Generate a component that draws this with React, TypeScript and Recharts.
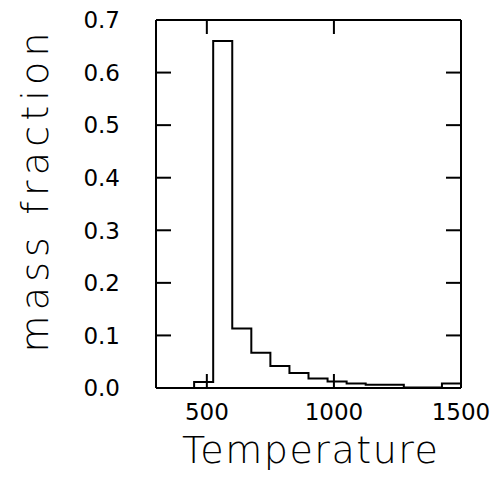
import React from 'react';
import { ComposedChart, Line, Scatter, XAxis, YAxis } from 'recharts';

const binEdges = [450, 525, 600, 675, 750, 825, 900, 975, 1050, 1125, 1200, 1275, 1350, 1425, 1500];
const massFraction = [0.0114, 0.66, 0.113, 0.067, 0.042, 0.0285, 0.018, 0.0125, 0.0087, 0.006, 0.006, 0.001, 0.001, 0.0087];
const xTicks = [500, 1000, 1500];
const yTicks = [0, 0.1, 0.2, 0.3, 0.4, 0.5, 0.6, 0.7];
const xDomain = [300, 1500];
const yDomain = [0, 0.7];

const data = [
  { t: binEdges[0], f: 0 },
  ...massFraction.map((v, i) => ({ t: binEdges[i], f: v })),
  { t: binEdges[binEdges.length - 1], f: massFraction[massFraction.length - 1] },
];

// anchor points for the inward x tick marks on the bottom and top frame edges
const xTickMarks = xTicks.flatMap((v) => [
  { t: v, f: yDomain[0], dir: -1 },
  { t: v, f: yDomain[1], dir: 1 },
]);

const FONT = '"DejaVu Sans", sans-serif';
const axisLine = { stroke: '#000', strokeWidth: 2 };
const TICK_LEN = 15;
const X_GAP = 16;
const Y_GAP = 36;

const BottomTick = (props: any) => {
  const { x, y, payload } = props;
  return (
    <text x={x} y={y} dy="0.71em" textAnchor="middle" fontSize={23} fontFamily={FONT} fill="#000">
      {payload.value}
    </text>
  );
};

const LeftTick = (props: any) => {
  const { x, y, payload } = props;
  return (
    <g>
      <line x1={x + Y_GAP} x2={x + Y_GAP + TICK_LEN} y1={y} y2={y} stroke="#000" strokeWidth={2} />
      <text x={x} y={y} dy="0.36em" textAnchor="end" fontSize={23} fontFamily={FONT} fill="#000">
        {Number(payload.value).toFixed(1)}
      </text>
    </g>
  );
};

const RightTick = (props: any) => {
  const { x, y } = props;
  return <line x1={x} x2={x - TICK_LEN} y1={y} y2={y} stroke="#000" strokeWidth={2} />;
};

const XTickMark = (props: any) => {
  const { cx, cy, payload } = props;
  if (cx == null || cy == null) return <g />;
  const dir = payload && payload.dir ? payload.dir : -1;
  return <line x1={cx} x2={cx} y1={cy} y2={cy + dir * 14} stroke="#000" strokeWidth={2} />;
};

export default function App() {
  return (
    <div style={{ position: 'absolute', left: 0, top: 0, background: '#fff' }}>
      <ComposedChart
        width={500}
        height={481}
        data={data}
        margin={{ top: 10, right: 29, bottom: 33, left: 96 }}
      >
        <XAxis
          xAxisId="b"
          dataKey="t"
          type="number"
          domain={xDomain}
          ticks={xTicks}
          allowDataOverflow
          interval={0}
          height={60}
          axisLine={axisLine}
          tickLine={false}
          tickSize={0}
          tickMargin={X_GAP}
          tick={<BottomTick />}
          label={() => (
            <text
              x={310}
              y={463}
              textAnchor="middle"
              fontSize={38}
              fontFamily={FONT}
              fontWeight={200}
              fill="#000"
              textLength={256}
              lengthAdjust="spacing"
            >
              Temperature
            </text>
          )}
        />
        <XAxis
          xAxisId="t"
          orientation="top"
          dataKey="t"
          type="number"
          domain={xDomain}
          ticks={xTicks}
          allowDataOverflow
          height={10}
          axisLine={axisLine}
          tickLine={false}
          tick={false}
        />
        <YAxis
          yAxisId="l"
          type="number"
          domain={yDomain}
          ticks={yTicks}
          allowDataOverflow
          interval={0}
          width={60}
          axisLine={axisLine}
          tickLine={false}
          tickSize={0}
          tickMargin={Y_GAP}
          tick={<LeftTick />}
          label={() => (
            <text
              x={48}
              y={192.5}
              transform="rotate(-90, 48, 192.5)"
              textAnchor="middle"
              fontSize={38}
              fontFamily={FONT}
              fontWeight={200}
              fill="#000"
              textLength={320}
              lengthAdjust="spacing"
            >
              mass fraction
            </text>
          )}
        />
        <YAxis
          yAxisId="r"
          orientation="right"
          type="number"
          domain={yDomain}
          ticks={yTicks}
          allowDataOverflow
          interval={0}
          width={10}
          axisLine={axisLine}
          tickLine={false}
          tickSize={0}
          tickMargin={0}
          tick={<RightTick />}
        />
        <Line
          xAxisId="t"
          yAxisId="r"
          dataKey="f"
          type="stepAfter"
          stroke="none"
          dot={false}
          activeDot={false}
          legendType="none"
          isAnimationActive={false}
        />
        <Line
          xAxisId="b"
          yAxisId="l"
          dataKey="f"
          type="stepAfter"
          stroke="#000"
          strokeWidth={2}
          dot={false}
          activeDot={false}
          isAnimationActive={false}
        />
        <Scatter
          xAxisId="b"
          yAxisId="l"
          data={xTickMarks}
          dataKey="f"
          shape={(p: any) => <XTickMark {...p} />}
          legendType="none"
          isAnimationActive={false}
        />
      </ComposedChart>
    </div>
  );
}
